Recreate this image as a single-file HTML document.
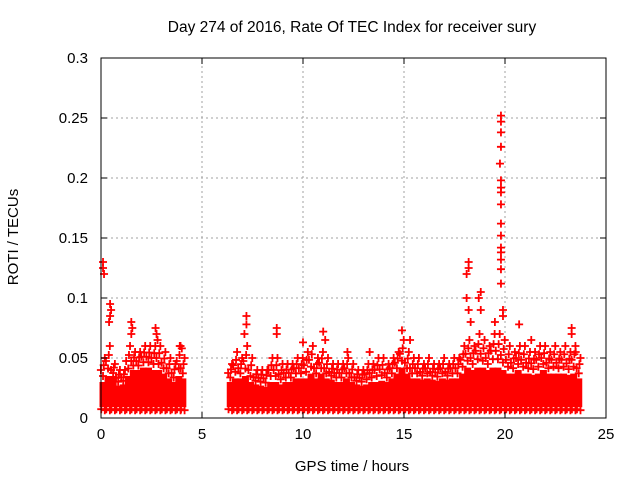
<!DOCTYPE html>
<html><head><meta charset="utf-8"><style>
body{margin:0;background:#fff}
svg{display:block;font-family:"Liberation Sans",sans-serif}
</style></head><body>
<svg id="chart" width="640" height="480" viewBox="0 0 640 480">
<text x="352" y="32" text-anchor="middle" font-size="15.5" fill="#000">Day 274 of 2016, Rate Of TEC Index for receiver sury</text>
<text x="352" y="471" text-anchor="middle" font-size="15" fill="#000">GPS time / hours</text>
<text transform="translate(18,237) rotate(-90)" text-anchor="middle" font-size="15" fill="#000">ROTI / TECUs</text>
<g id="grid"></g>
<g id="marks"></g>
<g id="axes"></g>
</svg>
<script>
const xTicks=[0,5,10,15,20,25];
const yTicks=[0,0.05,0.1,0.15,0.2,0.25,0.3];
const yTickLabels=["0","0.05","0.1","0.15","0.2","0.25","0.3"];
const bandT=[0.1,0.35,0.6,0.85,1.1,1.35,1.6,1.85,2.1,2.35,2.6,2.85,3.1,3.35,3.6,3.85,4.05,
6.4,6.65,6.9,7.15,7.4,7.65,7.9,8.15,8.4,8.65,8.9,9.15,9.4,9.65,9.9,10.15,10.4,10.65,10.9,11.15,11.4,11.65,11.9,12.15,12.4,12.65,12.9,13.15,13.4,13.65,13.9,14.15,14.4,14.65,14.9,15.15,15.4,15.65,15.9,16.15,16.4,16.65,16.9,17.15,17.4,17.65,17.9,18.15,18.4,18.65,18.9,19.15,19.4,19.65,19.9,20.15,20.4,20.65,20.9,21.15,21.4,21.65,21.9,22.15,22.4,22.65,22.9,23.15,23.4,23.65];
const bandTop=[0.03,0.035,0.035,0.027,0.028,0.035,0.04,0.04,0.042,0.042,0.04,0.04,0.037,0.033,0.03,0.035,0.033,
0.03,0.033,0.033,0.035,0.03,0.028,0.027,0.026,0.03,0.03,0.028,0.03,0.03,0.033,0.033,0.033,0.037,0.033,0.037,0.033,0.032,0.03,0.03,0.033,0.03,0.028,0.027,0.028,0.03,0.03,0.031,0.03,0.033,0.037,0.042,0.037,0.033,0.033,0.032,0.033,0.032,0.031,0.033,0.032,0.033,0.033,0.037,0.042,0.04,0.042,0.042,0.04,0.042,0.042,0.04,0.037,0.037,0.04,0.037,0.037,0.036,0.037,0.04,0.037,0.037,0.037,0.037,0.036,0.037,0.033];
const bandPeak=[0.05,0.06,0.045,0.04,0.04,0.06,0.055,0.055,0.06,0.06,0.06,0.06,0.055,0.05,0.045,0.06,0.05,
0.045,0.055,0.05,0.06,0.05,0.04,0.04,0.04,0.05,0.05,0.045,0.045,0.045,0.05,0.05,0.055,0.06,0.05,0.055,0.05,0.045,0.045,0.045,0.05,0.045,0.04,0.04,0.045,0.045,0.05,0.05,0.045,0.05,0.055,0.065,0.055,0.05,0.05,0.045,0.05,0.045,0.045,0.05,0.045,0.05,0.05,0.06,0.065,0.06,0.07,0.065,0.06,0.07,0.07,0.065,0.06,0.055,0.06,0.06,0.055,0.055,0.06,0.06,0.055,0.06,0.055,0.06,0.055,0.06,0.05];
const bandBottom=[0.009];
const spikeT=[0.1,0.1,0.15,0.45,0.45,0.4,0.5,1.5,1.55,1.5,2.7,2.75,2.8,3.9,4.0,7.2,7.2,7.1,8.7,8.7,10.0,11.0,11.1,12.2,13.3,14.9,15.3,18.2,18.2,18.1,18.1,18.2,18.3,18.8,18.7,18.8,19.8,19.8,19.8,19.8,19.75,19.8,19.8,19.8,19.8,19.8,19.8,19.8,19.8,19.8,19.8,19.8,19.9,19.9,19.5,20.7,21.3,23.3,23.3,23.5];
const spikeV=[0.13,0.125,0.12,0.095,0.085,0.08,0.09,0.08,0.075,0.07,0.075,0.07,0.065,0.06,0.058,0.085,0.078,0.07,0.075,0.07,0.063,0.072,0.065,0.055,0.055,0.073,0.065,0.13,0.125,0.12,0.1,0.09,0.08,0.105,0.1,0.09,0.252,0.247,0.238,0.226,0.212,0.198,0.192,0.188,0.178,0.162,0.152,0.142,0.138,0.132,0.124,0.112,0.09,0.085,0.08,0.078,0.065,0.075,0.07,0.055];
const X0=101,X1=606,Y0=418,Y1=58;
const xs=v=>X0+(v-0)/(25-0)*(X1-X0);
const ys=v=>Y0-(v-0)/(0.3-0)*(Y0-Y1);
const NS="http://www.w3.org/2000/svg";
function mk(tag,parent,attrs){const e=document.createElementNS(NS,tag);for(const k in attrs)e.setAttribute(k,attrs[k]);parent.appendChild(e);return e;}
const grid=document.getElementById('grid'),marks=document.getElementById('marks'),axes=document.getElementById('axes');
xTicks.forEach((t,i)=>{
 if(i>0&&i<xTicks.length-1){const l=mk('line',grid,{x1:xs(t),x2:xs(t),y1:Y0,y2:Y1,stroke:'#a0a0a0','stroke-dasharray':'2,3'});
 
 }
 mk('line',axes,{x1:xs(t),x2:xs(t),y1:Y0,y2:Y0-6,stroke:'#000'});
 mk('line',axes,{x1:xs(t),x2:xs(t),y1:Y1,y2:Y1+6,stroke:'#000'});
 const tx=mk('text',axes,{x:xs(t),y:Y0+21,'text-anchor':'middle','font-size':15});
 tx.textContent=String(t);
 
 
});
yTicks.forEach((t,i)=>{
 if(i>0&&i<yTicks.length-1){const l=mk('line',grid,{x1:X0,x2:X1,y1:ys(t),y2:ys(t),stroke:'#a0a0a0','stroke-dasharray':'2,3'});
 
 }
 mk('line',axes,{x1:X0,x2:X0+6,y1:ys(t),y2:ys(t),stroke:'#000'});
 mk('line',axes,{x1:X1,x2:X1-6,y1:ys(t),y2:ys(t),stroke:'#000'});
 const tx=mk('text',axes,{x:X0-13,y:ys(t)+5,'text-anchor':'end','font-size':15});
 tx.textContent=yTickLabels[i];
 
 
});
function plus(x,y,c){const s=4;const p=mk('path',marks,{d:`M${x-s},${y}H${x+s}M${x},${y-s}V${y+s}`,stroke:c,'stroke-width':1.8,fill:'none'});
 
 }
bandT.forEach((t,i)=>{
 const hw=(xs(0.25)-xs(0))/2+1;
 const r=mk('rect',marks,{x:xs(t)-hw,y:ys(bandTop[i]),width:2*hw,height:ys(bandBottom[0])-ys(bandTop[i]),fill:'#ff0000'});
 
 
 const top=bandTop[i],pk=bandPeak[i];
 plus(xs(t)-hw*0.6,ys(top+(pk-top)*0.5),'#ff0000');
 plus(xs(t),ys(top+(pk-top)*0.25),'#ff0000');
 plus(xs(t)+hw*0.5,ys(pk),'#ff0000');
 plus(xs(t)+hw*0.2,ys(top+(pk-top)*0.7),'#ff0000');
 plus(xs(t)-hw*0.5,ys(bandBottom[0])+2,'#ff0000');
 plus(xs(t)+hw*0.5,ys(bandBottom[0])+3,'#ff0000');
});
spikeT.forEach((t,i)=>{plus(xs(t),ys(spikeV[i]),'#ff0000');});
const frame=mk('rect',axes,{x:X0,y:Y1,width:X1-X0,height:Y0-Y1,fill:'none',stroke:'#000','stroke-width':1});


</script>
</body></html>
